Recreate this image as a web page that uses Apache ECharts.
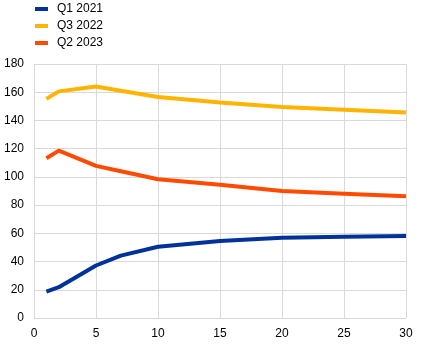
<!DOCTYPE html>
<html><head><meta charset="utf-8">
<script src="https://cdn.jsdelivr.net/npm/echarts@6/dist/echarts.min.js"></script>
<style>html,body{margin:0;padding:0;background:#fff}#c{width:437px;height:360px}</style>
</head><body><div id="c"></div>
<script>
const xs = [1, 2, 5, 7, 10, 15, 20, 25, 30];
const seriesNames = ['Q1 2021', 'Q3 2022', 'Q2 2023'];
const q1_2021 = [18.7, 21.8, 37.2, 44.2, 50.5, 54.5, 56.8, 57.6, 58.1];
const q3_2022 = [155.3, 160.6, 164.0, 161.0, 156.6, 152.7, 149.6, 147.6, 145.6];
const q2_2023 = [113.2, 118.6, 107.8, 104.0, 98.3, 94.5, 90.0, 88.1, 86.2];
const colors = ['#003299', '#FFB400', '#FF4B00'];
const values = [q1_2021, q3_2022, q2_2023];

const chart = echarts.init(document.getElementById('c'), null, {renderer: 'canvas'});
chart.setOption({
  animation: false,
  textStyle: {fontFamily: 'Liberation Sans, Arial, sans-serif'},
  legend: {
    orient: 'vertical', left: 30, top: -2,
    itemWidth: 13, itemHeight: 4, itemGap: 5,
    icon: 'rect',
    textStyle: {fontSize: 12, color: '#000', padding: [0, 0, 0, 4], lineHeight: 12},
    data: seriesNames
  },
  grid: {left: 34, right: 31, top: 64, bottom: 42},
  xAxis: {
    type: 'value', min: 0, max: 30, interval: 5,
    axisLine: {show: false}, axisTick: {show: false},
    splitLine: {show: true, lineStyle: {color: '#d9d9d9', width: 1}},
    axisLabel: {color: '#000', fontSize: 12, margin: 10}
  },
  yAxis: {
    type: 'value', min: 0, max: 180, interval: 20,
    axisLine: {show: false}, axisTick: {show: false},
    splitLine: {show: true, lineStyle: {color: '#d9d9d9', width: 1}},
    axisLabel: {color: '#000', fontSize: 12, margin: 10}
  },
  series: seriesNames.map((n, i) => ({
    name: n, type: 'line', showSymbol: false, symbol: 'none',
    data: xs.map((x, j) => [x, values[i][j]]),
    lineStyle: {color: colors[i], width: 4},
    itemStyle: {color: colors[i]}
  }))
});
</script></body></html>
